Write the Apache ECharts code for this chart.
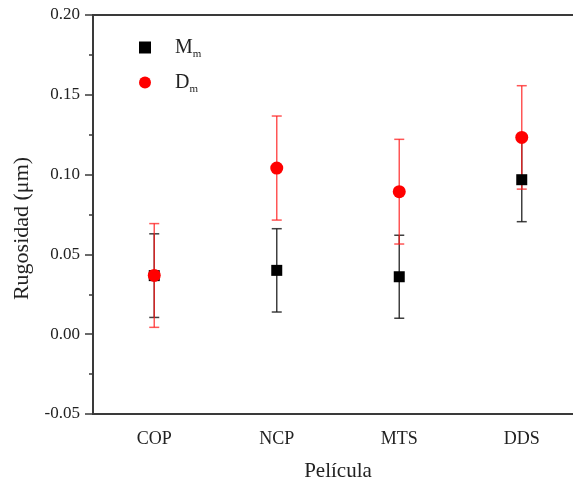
<!DOCTYPE html>
<html><head><meta charset="utf-8">
<script src="https://cdn.jsdelivr.net/npm/echarts@6/dist/echarts.min.js"></script>
<style>html,body{margin:0;padding:0;background:#fff;overflow:hidden;width:573px;height:480px}#c{width:583px;height:480px}</style>
</head><body><div id="c"></div>
<script>
var categories = ['COP', 'NCP', 'MTS', 'DDS'];
var mmValues = [0.0367, 0.0400, 0.0360, 0.0968];
var mmErrors = [0.0262, 0.0261, 0.0260, 0.0263];
var dmValues = [0.0368, 0.1041, 0.0893, 0.1233];
var dmErrors = [0.0325, 0.0326, 0.0328, 0.0324];
var yTicks = {min: -0.05, max: 0.20, interval: 0.05};

var FONT = '"Liberation Serif", "Times New Roman", serif';
var AX = '#3a3a3a';

function errData(vals, errs) {
  return vals.map(function (v, i) { return [i, v - errs[i], v + errs[i]]; });
}
function errRender(color) {
  return function (params, api) {
    var lo = api.coord([api.value(0), api.value(1)]);
    var hi = api.coord([api.value(0), api.value(2)]);
    var hw = 5;
    var st = {stroke: color, lineWidth: 1.5};
    return {type: 'group', children: [
      {type: 'line', shape: {x1: lo[0], y1: lo[1], x2: hi[0], y2: hi[1]}, style: st},
      {type: 'line', shape: {x1: lo[0] - hw, y1: lo[1], x2: lo[0] + hw, y2: lo[1]}, style: st},
      {type: 'line', shape: {x1: hi[0] - hw, y1: hi[1], x2: hi[0] + hw, y2: hi[1]}, style: st}
    ]};
  };
}

var chart = echarts.init(document.getElementById('c'), null, {renderer: 'canvas'});
chart.setOption({
  animation: false,
  backgroundColor: '#fff',
  grid: {left: 93, top: 15, right: 0, bottom: 66, outerBoundsMode: 'none', containLabel: false,
    show: true, borderColor: AX, borderWidth: 2, backgroundColor: 'transparent'},
  legend: {
    orient: 'vertical', left: 134, top: 30, itemGap: 10,
    itemWidth: 12, itemHeight: 12,
    data: ['Mm', 'Dm'],
    formatter: function (n) { return n === 'Mm' ? '{b|M}{s|m}' : '{b|D}{s|m}'; },
    textStyle: {
      fontFamily: FONT, color: '#222',
      rich: {
        b: {fontFamily: FONT, fontSize: 20, color: '#222', padding: [0, 0, 0, 19], lineHeight: 24},
        s: {fontFamily: FONT, fontSize: 11, color: '#222', padding: [14, 0, 0, 0], lineHeight: 24}
      }
    }
  },
  xAxis: [{
    type: 'category', data: categories, boundaryGap: true, position: 'bottom',
    name: 'Película', nameLocation: 'middle', nameGap: 47,
    nameTextStyle: {fontFamily: FONT, fontSize: 21, color: '#222'},
    axisLine: {onZero: false, lineStyle: {color: AX, width: 2}},
    axisTick: {alignWithLabel: true, length: 8, lineStyle: {color: AX, width: 1.5}},
    axisLabel: {fontFamily: FONT, fontSize: 18, color: '#222', margin: 16},
    splitLine: {show: false}
  }, {
    type: 'category', data: categories, boundaryGap: true, position: 'bottom', offset: 0,
    axisLine: {show: false, onZero: false},
    axisTick: {length: 4, lineStyle: {color: AX, width: 1.5}},
    axisLabel: {show: false},
    splitLine: {show: false}
  }],
  yAxis: {
    type: 'value', min: yTicks.min, max: yTicks.max, interval: yTicks.interval,
    name: 'Rugosidad (μm)', nameLocation: 'middle', nameGap: 57,
    nameTextStyle: {fontFamily: FONT, fontSize: 22, color: '#222', padding: [0, 28, 0, 0]},
    axisLine: {show: true, lineStyle: {color: AX, width: 2}},
    axisTick: {show: true, length: 8, lineStyle: {color: AX, width: 1.5}},
    minorTick: {show: true, splitNumber: 2, length: 4, lineStyle: {color: AX, width: 1.5}},
    axisLabel: {fontFamily: FONT, fontSize: 17, color: '#222', margin: 13,
      formatter: function (v) { return v.toFixed(2); }},
    splitLine: {show: false}
  },
  series: [
    {type: 'custom', name: 'errM', data: errData(mmValues, mmErrors), renderItem: errRender('rgba(30,30,30,0.85)'), z: 2, silent: true},
    {type: 'custom', name: 'errD', data: errData(dmValues, dmErrors), renderItem: errRender('rgba(255,30,30,0.75)'), z: 3, silent: true},
    {type: 'scatter', name: 'Mm', data: mmValues, symbol: 'rect', symbolSize: 11, itemStyle: {color: '#000', opacity: 1}, z: 4},
    {type: 'scatter', name: 'Dm', data: dmValues, symbol: 'circle', symbolSize: 13, itemStyle: {color: '#ff0000', opacity: 1}, z: 5}
  ]
});
</script></body></html>
